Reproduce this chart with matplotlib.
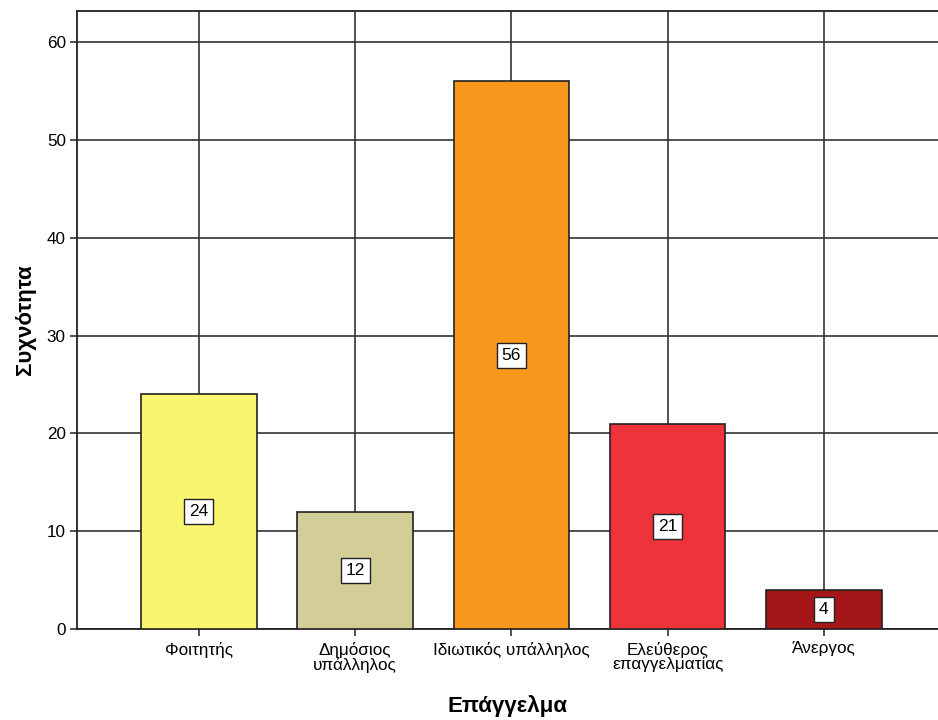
import matplotlib
matplotlib.use('Agg')
import matplotlib.pyplot as plt

# occupation frequencies
categories = ['Φοιτητής', 'Δημόσιος\nυπάλληλος', 'Ιδιωτικός υπάλληλος',
              'Ελεύθερος\nεπαγγελματίας', 'Άνεργος']
counts = [24, 12, 56, 21, 4]
colors = ['#F9F56E', '#D3CE97', '#F7981D', '#EF333A', '#A51619']

plt.rcParams['font.family'] = ['Liberation Sans', 'DejaVu Sans']

fig = plt.figure(figsize=(9.38, 7.2), dpi=100)
ax = fig.add_axes([77 / 938, 1 - 629 / 720, 1 - 77 / 938, 618 / 720])

x = list(range(len(categories)))
ax.bar(x, counts, width=0.74, color=colors, edgecolor='#222222', linewidth=1.2, zorder=3)

for xi, v in zip(x, counts):
    ax.text(xi, v / 2, str(v), ha='center', va='center', fontsize=12.5, zorder=4,
            bbox=dict(boxstyle='square,pad=0.28', facecolor='white', edgecolor='#222222', linewidth=1))

ax.set_xlim(-0.78, 4.73)
ax.set_ylim(0, 63.2)
ax.set_yticks(range(0, 61, 10))
ax.set_xticks(x)
ax.set_xticklabels(categories, fontsize=12.3, linespacing=0.95)
ax.tick_params(axis='y', labelsize=12.3, length=5, width=1.2, color='#333333', pad=3)
ax.tick_params(axis='x', length=5, width=1.2, color='#333333', pad=4)

ax.grid(True, color='#333333', linewidth=1.2, zorder=0)
ax.set_axisbelow(True)
for s in ['left', 'top', 'bottom']:
    ax.spines[s].set_linewidth(1.3)
    ax.spines[s].set_color('#222222')
ax.spines['right'].set_visible(False)

ax.set_ylabel('Συχνότητα', fontsize=16, fontweight='bold', labelpad=8)
ax.set_xlabel('Επάγγελμα', fontsize=16, fontweight='bold', labelpad=16)

fig.savefig('out.png', dpi=100)
